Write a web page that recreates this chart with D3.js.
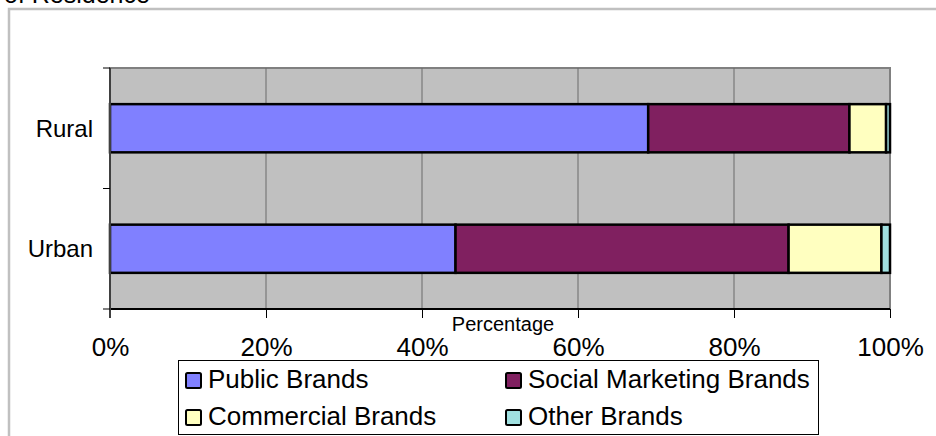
<!DOCTYPE html>
<html>
<head>
<meta charset="utf-8">
<script src="https://cdn.jsdelivr.net/npm/d3@7"></script>
<style>
    body { margin: 0; background: #fff; }
    svg { display: block; font-family: "Liberation Sans", Arial, sans-serif; }
</style>
</head>
<body>
<div id="container-result"></div>
<script>
const [svgW, svgH] = [936, 436];
const [plotL, plotR, plotT, plotB] = [110, 890, 68, 309];

// data (percent of users)
const categories = ["Rural", "Urban"];
const seriesNames = ["Public Brands", "Social Marketing Brands", "Commercial Brands", "Other Brands"];
const publicBrands = [69.0, 44.3];
const socialMarketingBrands = [25.8, 42.7];
const commercialBrands = [4.7, 11.9];
const otherBrands = [0.5, 1.1];
const seriesColors = ["#8080ff", "#802060", "#ffffc0", "#a0e0e0"];
const tickValues = [0, 20, 40, 60, 80, 100];
const tickLabels = ["0%", "20%", "40%", "60%", "80%", "100%"];

var svg = d3.select("#container-result")
    .append("svg").attr("width", svgW).attr("height", svgH);

// outer chart frame (cut by the window on the right and bottom)
svg.append("rect").attr("x", 9).attr("y", 9).attr("width", 1000).attr("height", 500)
    .attr("fill", "none").attr("stroke", "#c0c0c0").attr("stroke-width", 2.5);

// title, mostly off the top of the picture (as in the reference)
svg.append("text").attr("x", 4).attr("y", 3)
    .attr("font-size", 25).attr("fill", "#000")
    .text("of Residence");

var x = d3.scaleLinear().domain([0, 100]).range([plotL, plotR]);
var y = d3.scaleBand().domain(categories).range([plotT, plotB])
    .paddingInner(0.6).paddingOuter(0.3);

// plot area
svg.append("rect").attr("x", plotL).attr("y", plotT)
    .attr("width", plotR - plotL).attr("height", plotB - plotT)
    .attr("fill", "#c0c0c0").attr("stroke", "#808080").attr("stroke-width", 2);

svg.append("g").attr("id", "g_grid")
    .selectAll("line").data(tickValues.slice(1, -1)).join("line")
    .attr("x1", d => x(d)).attr("x2", d => x(d))
    .attr("y1", plotT).attr("y2", plotB)
    .attr("stroke", "#6a6a6a").attr("stroke-width", 1);

// stacked bars
var table = categories.map((c, i) => ({
    category: c,
    "Public Brands": publicBrands[i],
    "Social Marketing Brands": socialMarketingBrands[i],
    "Commercial Brands": commercialBrands[i],
    "Other Brands": otherBrands[i]
}));
var stacked = d3.stack().keys(seriesNames)(table);

svg.append("g").attr("id", "g_bars")
    .selectAll("g").data(stacked).join("g")
    .attr("fill", (d, i) => seriesColors[i])
    .selectAll("rect").data(d => d).join("rect")
    .attr("x", d => x(d[0]))
    .attr("y", d => y(d.data.category))
    .attr("width", d => x(d[1]) - x(d[0]))
    .attr("height", y.bandwidth())
    .attr("stroke", "#000").attr("stroke-width", 2.5);

// x axis
var xAxis = svg.append("g").attr("transform", `translate(0,${plotB})`)
    .call(d3.axisBottom(x).tickValues(tickValues)
        .tickFormat((d, i) => tickLabels[i]).tickSize(9).tickPadding(20));
xAxis.select(".domain").attr("stroke", "#000").attr("stroke-width", 2)
    .attr("d", `M${plotL},0H${plotR}`);
xAxis.selectAll(".tick line").attr("stroke", "#000");
xAxis.selectAll("text").attr("font-size", 26).attr("font-family", "Liberation Sans, Arial, sans-serif")
    .attr("fill", "#000");

// y axis: line, ticks at band edges, category labels
var yAxis = svg.append("g").attr("id", "g_yaxis");
yAxis.append("line").attr("x1", plotL).attr("x2", plotL)
    .attr("y1", plotT).attr("y2", plotB + 9)
    .attr("stroke", "#404040").attr("stroke-width", 2);
yAxis.selectAll(".ytick").data(d3.range(categories.length + 1)).join("line")
    .attr("class", "ytick")
    .attr("x1", plotL - 7).attr("x2", plotL)
    .attr("y1", d => plotT + d * y.step()).attr("y2", d => plotT + d * y.step())
    .attr("stroke", "#000").attr("stroke-width", 1);
yAxis.selectAll(".ylabel").data(categories).join("text")
    .attr("class", "ylabel")
    .attr("x", 93).attr("y", d => y(d) + y.bandwidth() / 2).attr("dy", "0.36em")
    .attr("text-anchor", "end").attr("font-size", 24).text(d => d);

// axis title
svg.append("text").attr("x", 503).attr("y", 331)
    .attr("text-anchor", "middle").attr("font-size", 20).text("Percentage");

// legend
var legend = svg.append("g").attr("id", "g_legend");
legend.append("rect").attr("x", 178.5).attr("y", 360.5).attr("width", 640).attr("height", 74)
    .attr("fill", "#fff").attr("stroke", "#000").attr("stroke-width", 1);
var legendItems = legend.selectAll(".item").data(seriesNames).join("g")
    .attr("class", "item")
    .attr("transform", (d, i) => `translate(${i % 2 ? 505 : 185},${i < 2 ? 372 : 409})`);
legendItems.append("rect").attr("x", 1).attr("y", 1).attr("width", 15).attr("height", 15)
    .attr("rx", 1.5)
    .attr("fill", (d, i) => seriesColors[i]).attr("stroke", "#000").attr("stroke-width", 2);
legendItems.append("text").attr("x", 23).attr("y", 16)
    .attr("font-size", 26).text(d => d);
</script>
</body>
</html>
